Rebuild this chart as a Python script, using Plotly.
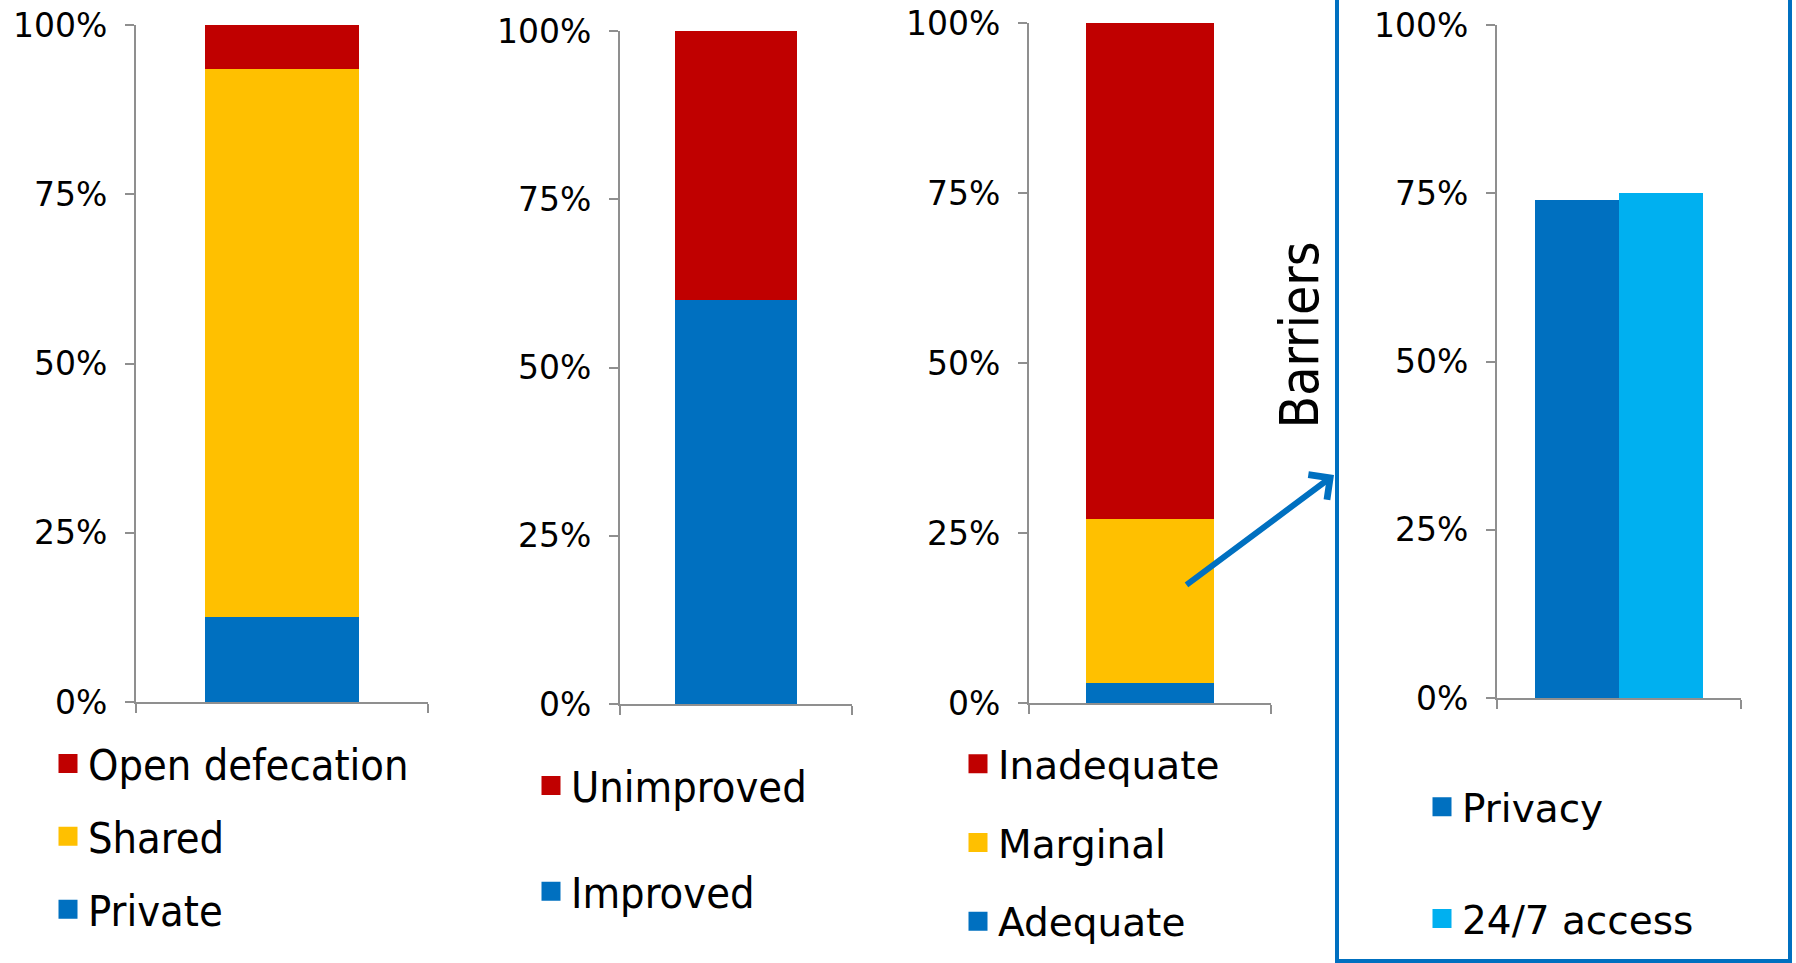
import plotly.graph_objects as go

W, H = 1796, 963

# ---- data ----
sanitation_labels = ["Private", "Shared", "Open defecation"]
sanitation_values = [12.5, 81.0, 6.5]
facility_labels = ["Improved", "Unimproved"]
facility_values = [60, 40]
adequacy_labels = ["Adequate", "Marginal", "Inadequate"]
adequacy_values = [3, 24, 73]
barrier_labels = ["Privacy", "24/7 access"]
barrier_values = [74, 75]
tick_vals = [0, 25, 50, 75, 100]
tick_text = ["0%", "25%", "50%", "75%", "100%"]

RED, YEL, BLUE, LBLUE = "#C00000", "#FFC000", "#0070C0", "#00B0F0"
stack_colors3 = [BLUE, YEL, RED]
stack_colors2 = [BLUE, RED]
barrier_colors = [BLUE, LBLUE]

fig = go.Figure()

def px_x(p):
    return p / W

def px_y(p):
    return 1 - p / H

panels = [
    dict(x=(136, 428), y=(25, 702)),
    dict(x=(620, 852), y=(31, 704)),
    dict(x=(1029, 1271), y=(23, 703)),
    dict(x=(1497, 1741), y=(25, 698)),
]

def add_panel(labels, values, colors, xs, width, sfx, legname, grp, reverse=True):
    n = len(labels)
    for i, (lab, val) in enumerate(zip(labels, values)):
        fig.add_trace(go.Bar(x=[xs[i]], y=[val], name=lab, marker_color=colors[i],
                             width=width, xaxis="x" + sfx, yaxis="y" + sfx,
                             showlegend=False, marker_line_width=0))
    for i, (lab, val) in enumerate(zip(labels, values)):
        fig.add_trace(go.Scatter(x=[None], y=[None], name=lab, mode="markers",
                                 marker=dict(symbol="square", size=16, color=colors[i],
                                             line=dict(color=colors[i], width=3)),
                                 xaxis="x" + sfx, yaxis="y" + sfx, legend=legname,
                                 legendgroup="%s%d" % (grp, i),
                                 legendrank=(n - i) if reverse else (i + 1),
                                 hoverinfo="skip"))

add_panel(sanitation_labels, sanitation_values, stack_colors3, [0, 0, 0], 0.527, "", "legend", "a")
add_panel(facility_labels, facility_values, stack_colors2, [0, 0], 0.526, "2", "legend2", "b")
add_panel(adequacy_labels, adequacy_values, stack_colors3, [0, 0, 0], 0.533, "3", "legend3", "c")
add_panel(barrier_labels, barrier_values, barrier_colors,
          list(range(len(barrier_labels))), 1, "4", "legend4", "d", reverse=False)

AX = "#8F8F8F"
TICKFONT = dict(family="DejaVu Sans, Verdana, sans-serif", size=33, color="#000")
xranges = [(-0.5, 0.5), (-0.5, 0.5), (-0.5, 0.5), (-0.952, 1.952)]
for k, p in enumerate(panels):
    s = "" if k == 0 else str(k + 1)
    xr = xranges[k]
    fig.update_layout(**{
        "xaxis" + s: dict(domain=[px_x(p["x"][0]), px_x(p["x"][1])], range=list(xr),
                          anchor="y" + s, showgrid=False, zeroline=False, showline=True,
                          linecolor=AX, linewidth=2, ticks="outside", ticklen=9,
                          tickcolor=AX, tickwidth=2, tickvals=list(xr),
                          showticklabels=False, fixedrange=True),
        "yaxis" + s: dict(domain=[px_y(p["y"][1]), px_y(p["y"][0])], range=[0, 100],
                          anchor="x" + s, showgrid=False, zeroline=False, showline=True,
                          linecolor=AX, linewidth=2, ticks="outside", ticklen=9,
                          tickcolor=AX, tickwidth=2, tickvals=tick_vals, ticktext=tick_text,
                          tickfont=TICKFONT, ticklabelstandoff=11, fixedrange=True),
    })

COND = "DejaVu Sans Condensed, DejaVu Sans, sans-serif"
NORM = "DejaVu Sans, Verdana, sans-serif"

def leg(x, y, fam, size, gap):
    return dict(x=px_x(x), y=px_y(y), xanchor="left", yanchor="top",
                font=dict(family=fam, size=size, color="#000"),
                traceorder="grouped", tracegroupgap=gap, itemclick=False,
                bgcolor="rgba(0,0,0,0)", borderwidth=0)

fig.update_layout(
    width=W, height=H, margin=dict(l=0, r=0, t=0, b=0, autoexpand=False),
    paper_bgcolor="white", plot_bgcolor="white",
    barmode="stack", showlegend=True,
    legend=leg(48, 729, COND, 43, 14),
    legend2=leg(531, 751, COND, 43, 47),
    legend3=leg(958, 732, NORM, 39, 25),
    legend4=leg(1422, 775, NORM, 39, 58),
)

fig.add_shape(type="rect", xref="paper", yref="paper",
              x0=px_x(1337), x1=px_x(1790), y0=px_y(961), y1=1.05,
              line=dict(color=BLUE, width=4), fillcolor="rgba(0,0,0,0)")

fig.add_annotation(x=px_x(1331), y=px_y(335), xref="paper", yref="paper",
                   text="Barriers", textangle=-90, showarrow=False,
                   font=dict(family=COND, size=53, color="#000"))

fig.add_annotation(x=px_x(1334), y=px_y(475), xref="paper", yref="paper",
                   ax=-149, ay=111, axref="pixel", ayref="pixel", text="",
                   showarrow=True, arrowhead=4, arrowsize=1.0, arrowwidth=6,
                   arrowcolor=BLUE)

fig.write_html("out.html")
